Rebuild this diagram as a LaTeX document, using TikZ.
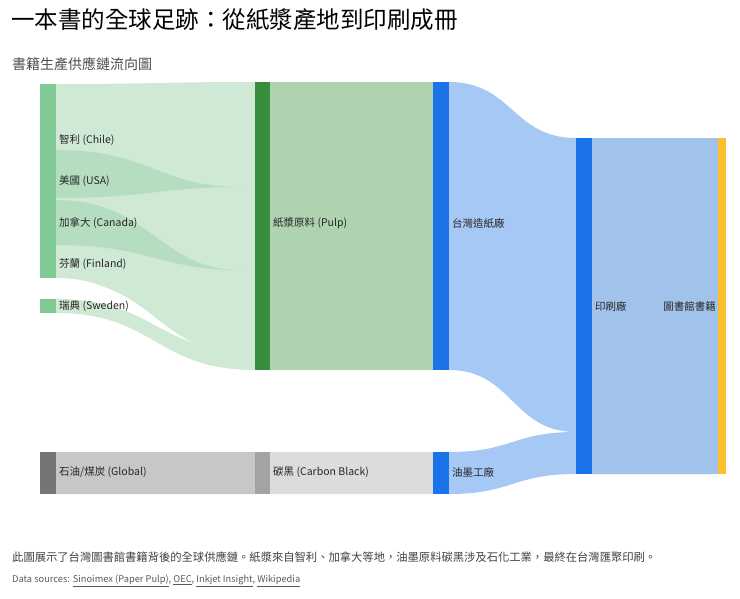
\documentclass[tikz,border=0pt]{standalone}
\usepackage{fontspec}
\setmainfont{Noto Sans CJK TC}
\newcommand\flowband[7]{% color, x1, ytop1, ybot1, x2, ytop2, ybot2
  \fill[#1] (#2,#3) .. controls ({(#2+#5)/2},#3) and ({(#2+#5)/2},#6) .. (#5,#6)
    -- (#5,#7) .. controls ({(#2+#5)/2},#7) and ({(#2+#5)/2},#4) .. (#2,#4) -- cycle;}
\definecolor{gsrc}{HTML}{81C995}
\definecolor{gflow}{HTML}{CFE9D5}
\definecolor{gwedge}{HTML}{B5DDC0}
\definecolor{gpulp}{HTML}{388E3C}
\definecolor{gpflow}{HTML}{AFD3B1}
\definecolor{bmill}{HTML}{1A73E8}
\definecolor{bflow}{HTML}{A5C8F5}
\definecolor{bflow2}{HTML}{A1C2EA}
\definecolor{ylib}{HTML}{FBC02D}
\definecolor{goil}{HTML}{757575}
\definecolor{goflow}{HTML}{C6C7C6}
\definecolor{gcb}{HTML}{A3A3A3}
\definecolor{gcflow}{HTML}{DCDCDC}
\begin{document}
\begin{tikzpicture}[x=1pt,y=-1pt,
  bar/.style={inner sep=0pt,outer sep=0pt},
  lbl/.style={anchor=west,inner sep=0pt,font=\fontsize{10.5}{12}\selectfont,text=black!85}]
\useasboundingbox (0,0) rectangle (740,598);
% title
\node[anchor=west,inner sep=0pt,font=\fontsize{23.5}{26}\selectfont] (title) at (11,20) {一本書的全球足跡：從紙漿產地到印刷成冊};
\node[anchor=west,inner sep=0pt,font=\fontsize{14}{16}\selectfont,text=black!70] (sub) at (12,64) {書籍生產供應鏈流向圖};
% flows left
\fill[gflow] (56,84) .. controls (155,84) and (155,82) .. (255,82) -- (255,368)
  .. controls (155,368) and (155,278) .. (56,278) -- cycle;
\fill[white] (56,280) .. controls (155,280) and (155,352) .. (240,352) .. controls (155,350) and (155,298) .. (56,298) -- cycle;
\flowband{gflow}{56}{299}{313}{255}{352}{370}
\fill[gwedge] (56,150) .. controls (150,150) and (160,187) .. (240,187) .. controls (160,187) and (150,198) .. (56,198) -- cycle;
\fill[gwedge] (56,200) .. controls (150,200) and (160,270) .. (240,270) .. controls (160,270) and (150,245) .. (56,245) -- cycle;
\flowband{gpflow}{270}{82}{370}{433}{82}{370}
\flowband{bflow}{449}{82}{370}{576}{138}{432}
\flowband{bflow}{449}{452}{494}{576}{432}{474}
\flowband{bflow2}{592}{138}{474}{718}{138}{474}
\flowband{goflow}{56}{452}{494}{255}{452}{494}
\flowband{gcflow}{270}{452}{494}{433}{452}{494}
% bars
\fill[gsrc] (40,84) rectangle (56,278) coordinate (src);
\fill[gsrc] (40,299) rectangle (56,313) coordinate (swe);
\fill[gpulp] (255,82) rectangle (270,370) coordinate (pulp);
\fill[bmill] (433,82) rectangle (449,370) coordinate (mill);
\fill[bmill] (576,138) rectangle (592,474) coordinate (print);
\fill[ylib] (718,138) rectangle (726,474) coordinate (lib);
\fill[goil] (40,452) rectangle (56,494) coordinate (oil);
\fill[gcb] (255,452) rectangle (270,494) coordinate (cb);
\fill[bmill] (433,452) rectangle (449,494) coordinate (ink);
% labels
\node[lbl] (l1) at (59,140) {智利 (Chile)};
\node[lbl] (l2) at (59,181) {美國 (USA)};
\node[lbl] (l3) at (59,223) {加拿大 (Canada)};
\node[lbl] (l4) at (59,264) {芬蘭 (Finland)};
\node[lbl] (l5) at (59,306) {瑞典 (Sweden)};
\node[lbl] (l6) at (273,223) {紙漿原料 (Pulp)};
\node[lbl] (l7) at (452,223) {台灣造紙廠};
\node[lbl] (l8) at (595,306) {印刷廠};
\node[lbl,anchor=east] (l9) at (716,306) {圖書館書籍};
\node[lbl] (l10) at (59,472) {石油/煤炭 (Global)};
\node[lbl] (l11) at (273,472) {碳黑 (Carbon Black)};
\node[lbl] (l12) at (452,472) {油墨工廠};
% footer
\node[anchor=west,inner sep=0pt,font=\fontsize{11.3}{13}\selectfont,text=black!75] (foot) at (12,557) {此圖展示了台灣圖書館書籍背後的全球供應鏈。紙漿來自智利、加拿大等地，油墨原料碳黑涉及石化工業，最終在台灣匯聚印刷。};
\node[anchor=west,inner sep=0pt,font=\fontsize{9.3}{11}\selectfont,text=black!65] (src2) at (12,581) {Data sources: \underline{Sinoimex (Paper Pulp)}, \underline{OEC}, \underline{Inkjet Insight}, \underline{Wikipedia}};
\end{tikzpicture}
\end{document}
